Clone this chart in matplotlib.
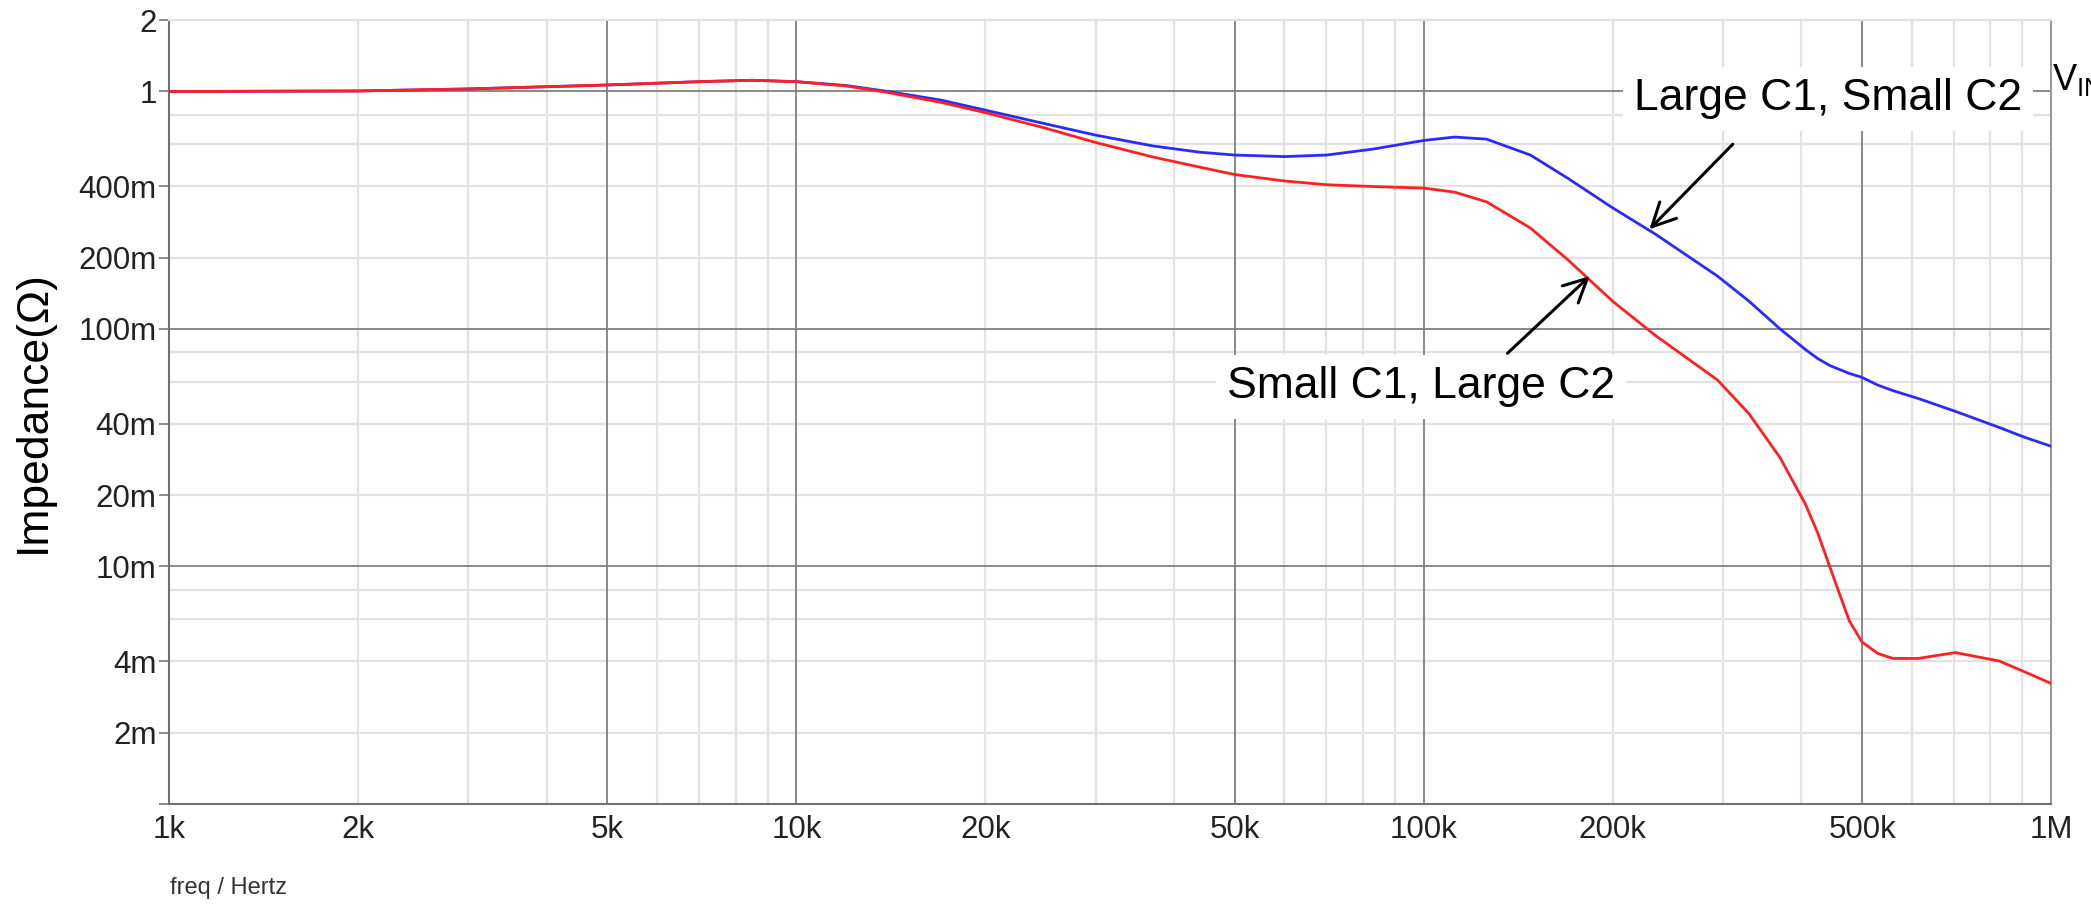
import matplotlib
matplotlib.use("Agg")
import matplotlib.pyplot as plt

plt.rcParams['font.family'] = ['Liberation Sans', 'DejaVu Sans']

# frequency points (Hz)
freq = [1e3, 2e3, 3e3, 5e3, 7e3, 8.5e3, 10e3, 12e3, 14e3, 17e3, 20e3, 25e3, 30e3,
        37e3, 44e3, 50e3, 60e3, 70e3, 83e3, 100e3, 112e3, 126e3, 148e3, 170e3,
        200e3, 234e3, 294e3, 330e3, 370e3, 406e3, 425e3, 445e3, 477e3, 500e3,
        530e3, 560e3, 614e3, 704e3, 827e3, 908e3, 1e6]

# impedance (ohm), "Large C1, Small C2"
z_large_c1 = [1.0, 1.005, 1.025, 1.065, 1.10, 1.115, 1.10, 1.06, 1.0, 0.92, 0.835,
              0.73, 0.655, 0.59, 0.555, 0.54, 0.532, 0.54, 0.572, 0.622, 0.643,
              0.63, 0.54, 0.43, 0.324, 0.251, 0.167, 0.131, 0.1, 0.082, 0.075,
              0.07, 0.065, 0.0625, 0.058, 0.055, 0.051, 0.045, 0.0385, 0.035,
              0.0321]

# impedance (ohm), "Small C1, Large C2"
z_small_c1 = [1.0, 1.005, 1.025, 1.065, 1.10, 1.115, 1.10, 1.055, 0.99, 0.9, 0.815,
              0.70, 0.61, 0.53, 0.48, 0.447, 0.42, 0.405, 0.398, 0.392, 0.377,
              0.343, 0.266, 0.195, 0.131, 0.094, 0.061, 0.044, 0.0287, 0.0183,
              0.0138, 0.0098, 0.0059, 0.0048, 0.0043, 0.0041, 0.0041, 0.00434,
              0.004, 0.0036, 0.00322]

x_ticks = [1e3, 2e3, 5e3, 1e4, 2e4, 5e4, 1e5, 2e5, 5e5, 1e6]
x_labels = ['1k', '2k', '5k', '10k', '20k', '50k', '100k', '200k', '500k', '1M']
y_ticks = [2, 1, 0.4, 0.2, 0.1, 0.04, 0.02, 0.01, 0.004, 0.002, 0.001]
y_labels = ['2', '1', '400m', '200m', '100m', '40m', '20m', '10m', '4m', '2m', '']

W, H = 2091, 909
fig = plt.figure(figsize=(W / 100, H / 100), dpi=100)
ax = fig.add_axes([169 / W, 1 - 804 / H, (2051 - 169) / W, (804 - 20) / H])
ax.set_xscale('log')
ax.set_yscale('log')
ax.set_xlim(1e3, 1e6)
ax.set_ylim(1e-3, 2)

light = '#e2e2e2'
dark = '#808080'

# vertical grid: 1..9 per decade, 1 and 5 darker
for d in range(3, 6):
    for m in range(1, 10):
        v = m * 10 ** d
        if v <= 1e3:
            continue
        if m in (1, 5):
            ax.axvline(v, color=dark, lw=1.3, zorder=1)
        else:
            ax.axvline(v, color=light, lw=1.6, zorder=0)

# horizontal grid: 2,4,6,8 per decade light, decades darker
for d in range(-3, 1):
    for m in (1, 2, 4, 6, 8):
        v = m * 10.0 ** d
        if v <= 1e-3 or v >= 2:
            continue
        if m == 1:
            ax.axhline(v, color=dark, lw=1.3, zorder=1)
        else:
            ax.axhline(v, color=light, lw=1.6, zorder=0)

ax.plot(freq, z_large_c1, color='#2a2aff', lw=2.0, zorder=3)
ax.plot(freq, z_small_c1, color='#ff2020', lw=2.0, zorder=4)

ax.xaxis.set_ticks(x_ticks)
ax.xaxis.set_ticklabels(x_labels)
ax.xaxis.set_minor_locator(matplotlib.ticker.NullLocator())
ax.yaxis.set_ticks(y_ticks)
ax.yaxis.set_ticklabels(y_labels)
ax.yaxis.set_minor_locator(matplotlib.ticker.NullLocator())
ax.tick_params(axis='x', length=0, pad=8, labelsize=22.5, labelcolor='#222222')
ax.tick_params(axis='y', length=7, width=1.2, color='#777777', pad=2,
               labelsize=22.5, labelcolor='#222222')

for side in ('left', 'bottom'):
    ax.spines[side].set_color('#707070')
    ax.spines[side].set_linewidth(1.5)
ax.spines['right'].set_color('#999999')
ax.spines['right'].set_linewidth(1.5)
ax.spines['top'].set_color('#e0e0e0')
ax.spines['top'].set_linewidth(1.5)

ax.set_ylabel('Impedance(\u03a9)', fontsize=32)
ax.yaxis.set_label_coords(-0.061, 0.5)

fig.text(170 / W, 1 - 888 / H, 'freq / Hertz', fontsize=17, color='#333333',
         ha='left', va='center')

box = dict(boxstyle='square,pad=0.25', facecolor='white', edgecolor='none')
ax.text(441e3, 0.93, 'Large C1, Small C2', fontsize=32, ha='center',
        va='center', bbox=box, zorder=6)
ax.text(99e3, 0.057, 'Small C1, Large C2', fontsize=32, ha='center',
        va='center', bbox=box, zorder=6)

arrow = dict(arrowstyle='->', color='black', lw=2.2, mutation_scale=42,
             shrinkA=0, shrinkB=0)
ax.annotate('', xy=(229e3, 0.263), xytext=(311e3, 0.60), arrowprops=arrow,
            zorder=7)
ax.annotate('', xy=(184e3, 0.167), xytext=(136e3, 0.079), arrowprops=arrow,
            zorder=7)

fig.text(2052 / W, 1 - 80 / H, r'V$_{\mathregular{IN}}$', fontsize=26,
         ha='left', va='center')

fig.savefig('out.png', dpi=100)
